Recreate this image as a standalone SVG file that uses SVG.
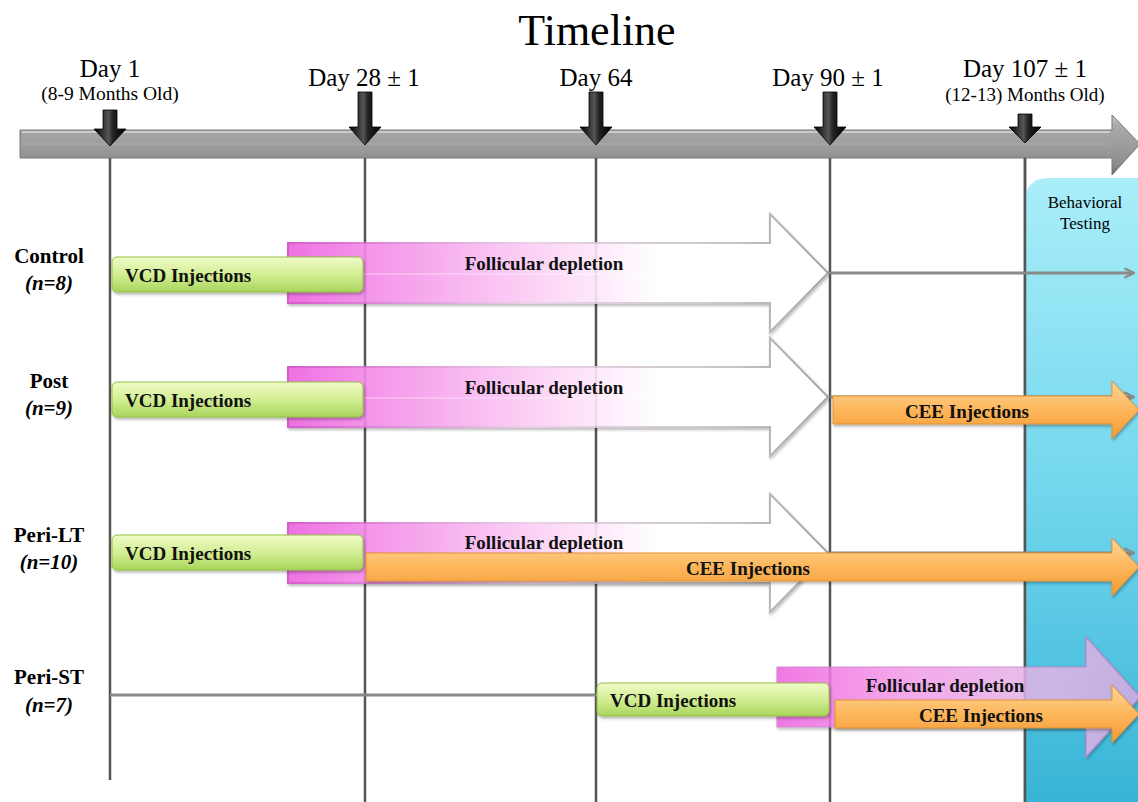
<svg xmlns="http://www.w3.org/2000/svg" width="1138" height="802" viewBox="0 0 1138 802">
<defs>
<style>
.serif{font-family:"Liberation Serif","Times New Roman",serif;fill:#000}
.lbl{font-family:"Liberation Serif","Times New Roman",serif;font-weight:bold;font-size:19px;fill:#111}
.row{font-family:"Liberation Serif","Times New Roman",serif;font-weight:bold;font-size:21px;fill:#000;text-anchor:middle}
.rown{font-family:"Liberation Serif","Times New Roman",serif;font-weight:bold;font-style:italic;font-size:21px;fill:#000;text-anchor:middle}
.vline{stroke:#555;stroke-width:2.5;fill:none}
.conn{stroke:#8a8a8a;stroke-width:3;fill:none}
.green{fill:url(#gGreen);stroke:#93c044;stroke-width:1;filter:url(#sh)}
.orange{fill:url(#gOrange);stroke:#e39030;stroke-width:1;filter:url(#sh)}
.pink{fill:url(#gPink);stroke:url(#gPinkStroke);stroke-width:2;opacity:0.9;filter:url(#sh)}
.marker{fill:url(#gBlack);stroke:#000;stroke-width:0.8}
</style>
<linearGradient id="gBar" x1="0" y1="0" x2="0" y2="1">
<stop offset="0" stop-color="#cacaca"/><stop offset="0.18" stop-color="#a9a9a9"/><stop offset="0.5" stop-color="#9d9d9d"/><stop offset="0.82" stop-color="#8d8d8d"/><stop offset="1" stop-color="#6c6c6c"/>
</linearGradient>
<linearGradient id="gBlack" x1="0" y1="0" x2="1" y2="0">
<stop offset="0" stop-color="#000"/><stop offset="0.45" stop-color="#555"/><stop offset="0.6" stop-color="#222"/><stop offset="1" stop-color="#000"/>
</linearGradient>
<linearGradient id="gPanel" x1="0" y1="0" x2="0" y2="1">
<stop offset="0" stop-color="#aaeef9"/><stop offset="0.5" stop-color="#72d6ed"/><stop offset="1" stop-color="#38b4d6"/>
</linearGradient>
<linearGradient id="gGreen" x1="0" y1="0" x2="0" y2="1">
<stop offset="0" stop-color="#f0fcc8"/><stop offset="0.5" stop-color="#d3ee94"/><stop offset="1" stop-color="#a8d55a"/>
</linearGradient>
<linearGradient id="gOrange" x1="0" y1="0" x2="0" y2="1">
<stop offset="0" stop-color="#ffd89e"/><stop offset="0.5" stop-color="#fdb65a"/><stop offset="1" stop-color="#f19a36"/>
</linearGradient>
<linearGradient id="gPink" x1="0" y1="0" x2="1" y2="0">
<stop offset="0" stop-color="#ee62e0"/><stop offset="0.15" stop-color="#f38ae8"/><stop offset="0.45" stop-color="#fbcdf5"/><stop offset="0.68" stop-color="#ffffff"/><stop offset="1" stop-color="#ffffff"/>
</linearGradient>
<linearGradient id="gPinkStroke" x1="0" y1="0" x2="1" y2="0">
<stop offset="0" stop-color="#d04cc6"/><stop offset="0.45" stop-color="#e9cde6"/><stop offset="0.8" stop-color="#c4c4c4"/><stop offset="1" stop-color="#9a9a9a"/>
</linearGradient>
<linearGradient id="gPinkST" x1="0" y1="0" x2="1" y2="0">
<stop offset="0" stop-color="#ee62e0"/><stop offset="0.35" stop-color="#f39ae9"/><stop offset="0.75" stop-color="#e2b6e8"/><stop offset="1" stop-color="#d7acdf"/>
</linearGradient>
<filter id="sh" x="-5%" y="-20%" width="110%" height="150%">
<feDropShadow dx="1" dy="2" stdDeviation="1.5" flood-color="#000" flood-opacity="0.3"/>
</filter>
<marker id="arr" viewBox="0 0 10 10" refX="9" refY="5" markerWidth="4" markerHeight="4" orient="auto" markerUnits="strokeWidth">
<path d="M1,1 L9,5 L1,9" fill="none" stroke="#8a8a8a" stroke-width="2"/>
</marker>
</defs>
<rect width="1138" height="802" fill="#fff"/>

<text class="serif" x="597" y="45" font-size="44" text-anchor="middle">Timeline</text>

<g id="axis">
<polygon points="20,130 1112,130 1112,115 1140,144 1112,175 1112,158 20,158" fill="url(#gBar)" stroke="#777" stroke-width="1"/>
<line x1="22" y1="132" x2="1110" y2="132" stroke="#d8d8d8" stroke-width="1.5"/>
<line x1="22" y1="144" x2="1110" y2="144" stroke="#b4b4b4" stroke-width="1" opacity="0.6"/>
</g>

<g id="gridlines">
<line class="vline" x1="110" y1="158" x2="110" y2="780"/>
<line class="vline" x1="365" y1="158" x2="365" y2="802"/>
<line class="vline" x1="596" y1="158" x2="596" y2="802"/>
<line class="vline" x1="830" y1="158" x2="830" y2="802"/>
<line class="vline" x1="1025" y1="158" x2="1025" y2="802"/>
</g>

<g id="day1">
<polygon class="marker" points="103,110 117,110 117,129 126,129 110,146 94,129 103,129"/>
<text class="serif" x="110" y="77" font-size="25" text-anchor="middle">Day 1</text>
<text class="serif" x="110" y="100" font-size="19.5" text-anchor="middle">(8-9 Months Old)</text>
</g>
<g id="day28">
<polygon class="marker" points="358,92 372,92 372,127 381,127 365,145 349,127 358,127"/>
<text class="serif" x="364" y="86" font-size="25" text-anchor="middle">Day 28 ± 1</text>
</g>
<g id="day64">
<polygon class="marker" points="589,92 603,92 603,127 612,127 596,145 580,127 589,127"/>
<text class="serif" x="596" y="86" font-size="25" text-anchor="middle">Day 64</text>
</g>
<g id="day90">
<polygon class="marker" points="823,92 837,92 837,127 846,127 830,145 814,127 823,127"/>
<text class="serif" x="828" y="86" font-size="25" text-anchor="middle">Day 90 ± 1</text>
</g>
<g id="day107">
<polygon class="marker" points="1018,114 1032,114 1032,127 1041,127 1025,143 1009,127 1018,127"/>
<text class="serif" x="1025" y="77" font-size="25" text-anchor="middle">Day 107 ± 1</text>
<text class="serif" x="1025" y="101" font-size="19" text-anchor="middle">(12-13) Months Old)</text>
</g>

<g id="behavioral">
<path d="M1025,802 L1025,202 Q1025,178 1049,178 L1140,178 L1140,802 Z" fill="url(#gPanel)"/>
<line class="vline" x1="1025" y1="158" x2="1025" y2="802"/>
<text class="serif" x="1085" y="208" font-size="17" text-anchor="middle">Behavioral</text>
<text class="serif" x="1085" y="229" font-size="17" text-anchor="middle">Testing</text>
</g>

<g id="labels">
<text class="row" x="49" y="263">Control</text>
<text class="rown" x="49" y="290">(n=8)</text>
<text class="row" x="49" y="388">Post</text>
<text class="rown" x="49" y="415">(n=9)</text>
<text class="row" x="49" y="542">Peri-LT</text>
<text class="rown" x="49" y="569">(n=10)</text>
<text class="row" x="49" y="684">Peri-ST</text>
<text class="rown" x="49" y="712">(n=7)</text>
</g>

<g id="connectors">
<line class="conn" x1="828" y1="273" x2="1134" y2="273" marker-end="url(#arr)"/>
<line class="conn" x1="830" y1="397" x2="1134" y2="397" marker-end="url(#arr)"/>
<line class="conn" x1="828" y1="553" x2="1134" y2="553" marker-end="url(#arr)"/>
<line class="conn" x1="110" y1="695" x2="598" y2="695"/>
</g>

<g id="control-follicular">
<polygon class="pink" points="288,243 770,243 770,214 828,273 770,332 770,303 288,303"/>
<line x1="290" y1="274" x2="790" y2="274" stroke="#fff" stroke-width="1.2" opacity="0.5"/>
<text class="lbl" x="544" y="270" text-anchor="middle">Follicular depletion</text>
</g>
<g id="control-vcd">
<rect class="green" x="112" y="257" width="251" height="35" rx="5"/>
<text class="lbl" x="125" y="282">VCD Injections</text>
</g>

<g id="post-follicular">
<polygon class="pink" points="288,367 770,367 770,338 828,397 770,456 770,427 288,427"/>
<line x1="290" y1="398" x2="790" y2="398" stroke="#fff" stroke-width="1.2" opacity="0.5"/>
<text class="lbl" x="544" y="394" text-anchor="middle">Follicular depletion</text>
</g>
<g id="post-vcd">
<rect class="green" x="112" y="382" width="251" height="35" rx="5"/>
<text class="lbl" x="125" y="407">VCD Injections</text>
</g>
<g id="post-cee">
<polygon class="orange" points="833,396 1112,396 1112,381 1139,410 1112,439 1112,424 833,424"/>
<text class="lbl" x="967" y="418" text-anchor="middle">CEE Injections</text>
</g>

<g id="perilt-follicular">
<polygon class="pink" points="288,523 770,523 770,494 828,553 770,612 770,583 288,583"/>
<text class="lbl" x="544" y="549" text-anchor="middle">Follicular depletion</text>
</g>
<g id="perilt-vcd">
<rect class="green" x="112" y="535" width="251" height="35" rx="5"/>
<text class="lbl" x="125" y="560">VCD Injections</text>
</g>
<g id="perilt-cee">
<polygon class="orange" points="366,553 1112,553 1112,538 1139,567 1112,596 1112,581 366,581"/>
<text class="lbl" x="748" y="575" text-anchor="middle">CEE Injections</text>
</g>

<g id="perist-follicular">
<polygon points="777,667 1086,667 1086,637 1140,697 1086,757 1086,727 777,727" fill="url(#gPinkST)" stroke="#c77fc8" stroke-width="1.2" opacity="0.85" filter="url(#sh)"/>
<text class="lbl" x="945" y="692" text-anchor="middle">Follicular depletion</text>
</g>
<g id="perist-vcd">
<rect class="green" x="597" y="683" width="232" height="33" rx="5"/>
<text class="lbl" x="610" y="707">VCD Injections</text>
</g>
<g id="perist-cee">
<polygon class="orange" points="835,700 1112,700 1112,685 1139,714 1112,743 1112,728 835,728"/>
<text class="lbl" x="981" y="722" text-anchor="middle">CEE Injections</text>
</g>
</svg>
